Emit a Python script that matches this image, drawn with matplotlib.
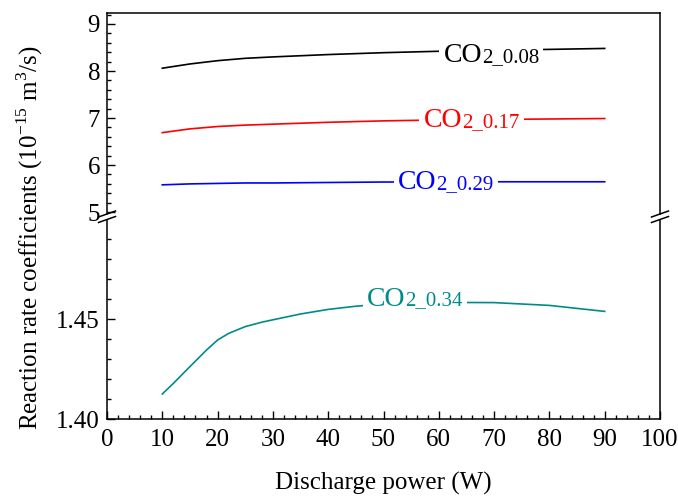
import numpy as np
import matplotlib
matplotlib.use("Agg")
import matplotlib.pyplot as plt
from matplotlib.lines import Line2D
from matplotlib.patches import Rectangle
from matplotlib.offsetbox import TextArea, HPacker, AnnotationBbox
from matplotlib.ticker import MultipleLocator, FormatStrFormatter

plt.rcParams['font.family'] = 'Liberation Serif'
plt.rcParams['mathtext.fontset'] = 'custom'
plt.rcParams['mathtext.rm'] = 'Liberation Serif'

# data
power = [10, 15, 20, 25, 30, 40, 50, 60, 70, 80, 90]
k_008 = [8.06, 8.15, 8.22, 8.27, 8.30, 8.35, 8.39, 8.42, 8.44, 8.46, 8.48]
k_017 = [6.69, 6.77, 6.82, 6.85, 6.87, 6.91, 6.94, 6.96, 6.97, 6.98, 6.99]
k_029 = [5.58, 5.60, 5.61, 5.62, 5.62, 5.63, 5.64, 5.64, 5.645, 5.645, 5.645]

power_034 = [10, 12, 15, 18, 20, 22, 25, 28, 30, 35, 40, 45, 50, 60, 70, 80, 90]
k_034 = [1.4125, 1.4178, 1.4262, 1.4345, 1.4395, 1.4428, 1.4462, 1.4484, 1.4496,
         1.4525, 1.4548, 1.4564, 1.4575, 1.4583, 1.4582, 1.4568, 1.4538]

labels = ['_0.08', '_0.17', '_0.29', '_0.34']
label_x = [69.5, 65.9, 61.3, 55.7]
label_y = [8.32, 6.94, 5.63, 1.460]
colors = ['black', '#ff0000', '#0000ff', '#008b8b']

W, H = 678, 498
fig = plt.figure(figsize=(W / 100, H / 100), dpi=100)

def fx(px):
    return px / W

def fy(py):
    return 1 - py / H

left, right = 107, 660
ax_top = fig.add_axes([fx(left), fy(214), fx(right) - fx(left), fy(12.7) - fy(214)])
ax_bot = fig.add_axes([fx(left), fy(419), fx(right) - fx(left), fy(220) - fy(419)])

ax_top.plot(power, k_008, color=colors[0], lw=1.2)
ax_top.plot(power, k_017, color=colors[1], lw=1.2)
ax_top.plot(power, k_029, color=colors[2], lw=1.2)
ax_bot.plot(power_034, k_034, color=colors[3], lw=1.2)

for ax in (ax_top, ax_bot):
    ax.set_xlim(0, 100)
    ax.xaxis.set_major_locator(MultipleLocator(10))
    ax.xaxis.set_minor_locator(MultipleLocator(2))
    ax.tick_params(which='both', direction='in', top=False, right=False,
                   labelsize=18, width=1.0)
    ax.tick_params(which='major', length=6)
    ax.tick_params(which='minor', length=3)
    ax.tick_params(axis='y', pad=5)
    ax.tick_params(axis='x', pad=7)
    for s in ax.spines.values():
        s.set_linewidth(1.1)

ax_top.set_ylim(4.96, 9.24)
ax_top.yaxis.set_major_locator(MultipleLocator(1))
ax_top.yaxis.set_minor_locator(MultipleLocator(0.2))
ax_top.spines['bottom'].set_visible(False)
ax_top.tick_params(axis='x', which='both', bottom=False, labelbottom=False)

ax_bot.set_ylim(1.40, 1.4995)
ax_bot.set_yticks([1.40, 1.45])
ax_bot.yaxis.set_minor_locator(MultipleLocator(0.01))
ax_bot.yaxis.set_major_formatter(FormatStrFormatter('%.2f'))
ax_bot.spines['top'].set_visible(False)

# curve labels "CO" + smaller "2_0.xx" on a white box
for i, lab in enumerate(labels):
    ax = ax_bot if i == 3 else ax_top
    t1 = TextArea('CO', textprops=dict(color=colors[i], fontsize=20))
    t2 = TextArea('2' + lab, textprops=dict(color=colors[i], fontsize=15))
    box = HPacker(children=[t1, t2], align='baseline', pad=0, sep=0)
    ab = AnnotationBbox(box, (label_x[i], label_y[i]), xycoords='data',
                        frameon=True, pad=0.3, zorder=5,
                        bboxprops=dict(facecolor='white', edgecolor='none'))
    ax.add_artist(ab)

# axis break marks
for xb in (left, right):
    fig.add_artist(Rectangle((fx(xb - 3), fy(219.5)), fx(6), fy(214.5) - fy(219.5),
                             transform=fig.transFigure, facecolor='white',
                             edgecolor='none', zorder=10))
    for off in (-2.5, 3.0):
        yc = 216.5 + off
        fig.add_artist(Line2D([fx(xb - 8.5), fx(xb + 8.5)], [fy(yc + 3), fy(yc - 3)],
                              transform=fig.transFigure, color='black', lw=1.1,
                              zorder=11))

fig.text(fx(383), fy(483), 'Discharge power (W)', ha='center', va='center', fontsize=18)
fig.text(fx(30), fy(238), 'Reaction rate coefficients (10$^{-15}$ m$^3$/s)',
         ha='center', va='center', rotation=90, fontsize=18)

fig.savefig('out.png', dpi=100)
